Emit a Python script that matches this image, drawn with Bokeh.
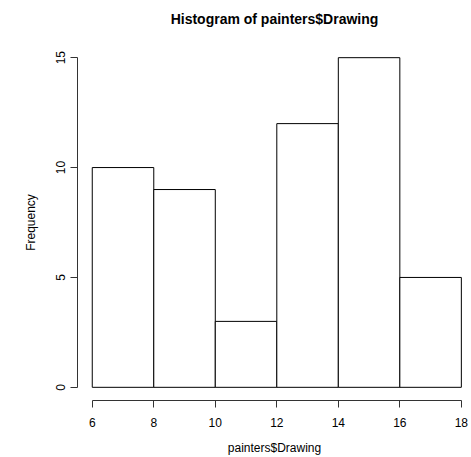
from bokeh.plotting import figure
from bokeh.models import FixedTicker, Range1d, LinearAxis
from bokeh.embed import file_html
from bokeh.resources import INLINE

bin_edges = [6, 8, 10, 12, 14, 16, 18]
counts = [10, 9, 3, 12, 15, 5]
x_ticks = [6, 8, 10, 12, 14, 16, 18]
y_ticks = [0, 5, 10, 15]
title_text = "Histogram of painters$Drawing"

FONT = "Liberation Sans"

p = figure(width=471, height=457, frame_width=394, frame_height=356,
           output_backend="svg", toolbar_location=None,
           x_range=Range1d(5.52, 18.33), y_range=Range1d(-0.6, 15.6),
           min_border_left=77, min_border_top=44, min_border_bottom=57, min_border_right=0)

p.quad(left=bin_edges[:-1], right=bin_edges[1:], top=counts, bottom=0,
       fill_color="white", line_color="black", line_width=1)

p.xgrid.visible = False
p.ygrid.visible = False
p.outline_line_color = None

bottom_axis = p.below[0]
left_axis = p.left[0]

for ax, ticks, bnds in ((bottom_axis, x_ticks, (6, 18)), (left_axis, y_ticks, (0, 15))):
    ax.ticker = FixedTicker(ticks=ticks)
    ax.bounds = bnds
    ax.axis_line_color = "#333333"
    ax.axis_line_width = 1
    ax.major_tick_line_color = "#333333"
    ax.major_tick_out = 7
    ax.major_tick_in = 0
    ax.minor_tick_line_color = None
    ax.major_label_text_font = FONT
    ax.major_label_text_font_size = "12px"
    ax.major_label_text_color = "black"
    ax.axis_label_text_font = FONT
    ax.axis_label_text_font_size = "12px"
    ax.axis_label_text_font_style = "normal"
    ax.axis_label_text_color = "black"

bottom_axis.axis_label = "painters$Drawing"
bottom_axis.major_label_standoff = 10
bottom_axis.axis_label_standoff = 11

left_axis.axis_label = "Frequency"
left_axis.major_label_orientation = "vertical"
left_axis.major_label_standoff = 5
left_axis.axis_label_standoff = 16

# main title drawn as the label of a bare axis above the frame
top_axis = LinearAxis(ticker=FixedTicker(ticks=[]), axis_label=title_text,
                      axis_line_color=None, major_tick_line_color=None,
                      minor_tick_line_color=None, major_tick_out=0, major_tick_in=0,
                      major_label_standoff=0, axis_label_standoff=18,
                      axis_label_text_font=FONT, axis_label_text_font_size="14px",
                      axis_label_text_font_style="bold", axis_label_text_color="black")
p.add_layout(top_axis, "above")

open("out.html", "w").write(file_html(p, INLINE))
